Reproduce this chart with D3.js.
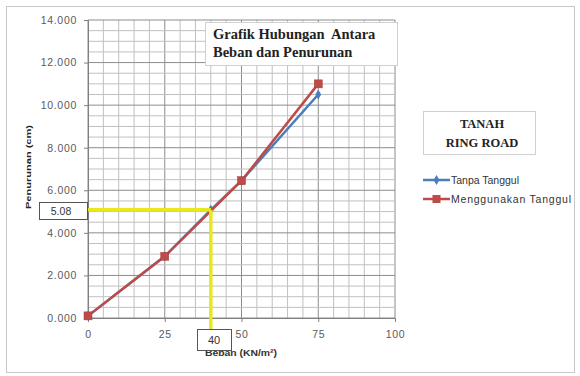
<!DOCTYPE html>
<html>
<head>
<meta charset="utf-8">
<script src="https://cdn.jsdelivr.net/npm/d3@7"></script>
<style>
  html, body { margin: 0; padding: 0; background: #fff; }
  svg { display: block; }
</style>
</head>
<body>
<svg id="chart" width="580" height="376"></svg>
<script>
// Load (KN/m2) and settlement (cm) for the two cases
const beban = [0, 25, 50, 75];
const bebanTanpa = [0, 25, 40, 50, 75];
const tanpaTanggul = [0.1, 2.9, 5.08, 6.45, 10.5];
const menggunakanTanggul = [0.1, 2.9, 6.45, 11.0];
const xTicks = [0, 25, 50, 75, 100];
const yTicks = [0, 2, 4, 6, 8, 10, 12, 14];
const seriesNames = ["Tanpa Tanggul", "Menggunakan Tanggul"];
// Reading marked on the curve
const readX = 40;
const readY = 5.08;

const svg = d3.select("#chart");
const sans = "Liberation Sans, Arial, sans-serif";
const serif = "Liberation Serif, Times New Roman, serif";

// outer frame
svg.append("rect").attr("x", 6.5).attr("y", 6.5).attr("width", 568).attr("height", 366)
  .attr("fill", "#fff").attr("stroke", "#c8c8c8").attr("stroke-width", 1);

const x = d3.scaleLinear().domain([0, 100]).range([88, 395]);
const y = d3.scaleLinear().domain([0, 14]).range([318, 20]);

// gridlines
const g = svg.append("g");
d3.range(0, 100.01, 5).forEach(v => {
  const major = v % 25 === 0;
  g.append("line").attr("x1", x(v)).attr("x2", x(v)).attr("y1", y(14)).attr("y2", y(0))
    .attr("stroke", major ? "#8c8c8c" : "#c0c0c0").attr("stroke-width", 1);
});
d3.range(0, 14.01, 0.5).forEach(v => {
  const major = Math.abs(v % 2) < 1e-9;
  g.append("line").attr("x1", x(0)).attr("x2", x(100)).attr("y1", y(v)).attr("y2", y(v))
    .attr("stroke", major ? "#8c8c8c" : "#c0c0c0").attr("stroke-width", 1);
});

// axes
const yAxis = svg.append("g").attr("transform", `translate(${x(0)},0)`)
  .call(d3.axisLeft(y).tickValues(yTicks).tickFormat(d3.format(".3f")).tickSize(4).tickPadding(7));
const xAxis = svg.append("g").attr("transform", `translate(0,${y(0)})`)
  .call(d3.axisBottom(x).tickValues(xTicks).tickFormat(d3.format("d")).tickSize(4).tickPadding(9));
[yAxis, xAxis].forEach(a => {
  a.selectAll("path,line").attr("stroke", "#808080");
  a.selectAll("text").attr("fill", "#5a5a5a").style("font-family", sans)
    .style("font-size", "10.5px").style("letter-spacing", "0.7px");
});

// axis titles
svg.append("text").attr("transform", "translate(31,167) rotate(-90)")
  .attr("text-anchor", "middle").style("font-family", sans)
  .style("font-size", "8px").style("font-weight", "bold").attr("fill", "#222")
  .attr("textLength", 84).attr("lengthAdjust", "spacingAndGlyphs")
  .text("Penurunan (cm)");
svg.append("text").attr("x", 241).attr("y", 356).attr("text-anchor", "middle")
  .style("font-family", sans).style("font-size", "9px")
  .style("font-weight", "bold").attr("fill", "#333")
  .attr("textLength", 72).attr("lengthAdjust", "spacingAndGlyphs").text("Beban (KN/m²)");

// series
const colors = ["#4a7ebb", "#be4b48"];
const line = d3.line().x(d => x(d[0])).y(d => y(d[1]));
const dataTanpa = bebanTanpa.map((b, i) => [b, tanpaTanggul[i]]);
const dataMenggunakan = beban.map((b, i) => [b, menggunakanTanggul[i]]);

svg.append("path").datum(dataTanpa).attr("d", line).attr("fill", "none")
  .attr("stroke", colors[0]).attr("stroke-width", 2.5);
svg.selectAll(".mk0").data(dataTanpa).join("path").attr("class", "mk0")
  .attr("transform", d => `translate(${x(d[0])},${y(d[1])})`)
  .attr("d", d3.symbol(d3.symbolDiamond, 30)).attr("fill", colors[0]);

svg.append("path").datum(dataMenggunakan).attr("d", line).attr("fill", "none")
  .attr("stroke", colors[1]).attr("stroke-width", 2.5);
svg.selectAll(".mk1").data(dataMenggunakan).join("rect").attr("class", "mk1")
  .attr("x", d => x(d[0]) - 4).attr("y", d => y(d[1]) - 4).attr("width", 8).attr("height", 8)
  .attr("fill", colors[1]).attr("stroke", "#a33d3a").attr("stroke-width", 0.5);

// reading lines at the marked load
const yellow = "#e8e81a";
svg.append("line").attr("x1", 87).attr("x2", x(readX)).attr("y1", y(readY)).attr("y2", y(readY))
  .attr("stroke", yellow).attr("stroke-width", 3.5);
svg.append("line").attr("x1", x(readX)).attr("x2", x(readX)).attr("y1", y(readY)).attr("y2", 330)
  .attr("stroke", yellow).attr("stroke-width", 3.5);

// value boxes (drawn over the axis title)
svg.append("rect").attr("x", 39.5).attr("y", 202.5).attr("width", 48).attr("height", 17)
  .attr("fill", "#fff").attr("stroke", "#555").attr("stroke-width", 1);
svg.append("text").attr("x", 61).attr("y", 215).attr("text-anchor", "middle")
  .style("font-family", sans).style("font-size", "10.5px")
  .attr("fill", "#333").text(d3.format(".2f")(readY));
svg.append("rect").attr("x", 197.5).attr("y", 329.5).attr("width", 34).attr("height", 21)
  .attr("fill", "#fff").attr("stroke", "#555").attr("stroke-width", 1);
svg.append("text").attr("x", 214).attr("y", 344).attr("text-anchor", "middle")
  .style("font-family", sans).style("font-size", "11px")
  .attr("fill", "#333").text(readX);

// chart title box
svg.append("rect").attr("x", 205.5).attr("y", 22.5).attr("width", 192).attr("height", 43)
  .attr("fill", "#fff").attr("stroke", "#d0d0d0").attr("stroke-width", 1);
const title = svg.append("text").style("font-family", serif)
  .style("font-size", "14.5px").style("font-weight", "bold").attr("fill", "#222");
title.append("tspan").attr("x", 213).attr("y", 39).attr("xml:space", "preserve").text("Grafik Hubungan  Antara");
title.append("tspan").attr("x", 213).attr("y", 57).text("Beban dan Penurunan");

// legend title box
svg.append("rect").attr("x", 423.5).attr("y", 111.5).attr("width", 112).attr("height", 43)
  .attr("fill", "#fff").attr("stroke", "#d0d0d0").attr("stroke-width", 1);
const lt = svg.append("text").attr("text-anchor", "middle")
  .style("font-family", serif)
  .style("font-size", "12.5px").style("font-weight", "bold").attr("fill", "#222");
lt.append("tspan").attr("x", 482).attr("y", 128).text("TANAH");
lt.append("tspan").attr("x", 482).attr("y", 147).text("RING ROAD");

// legend
const legendWidths = [68, 120];
seriesNames.forEach((name, i) => {
  const ly = 180 + i * 19;
  svg.append("line").attr("x1", 423).attr("x2", 450).attr("y1", ly).attr("y2", ly)
    .attr("stroke", colors[i]).attr("stroke-width", 2.5);
  if (i === 0) {
    svg.append("path").attr("transform", `translate(436.5,${ly})`)
      .attr("d", d3.symbol(d3.symbolDiamond, 30)).attr("fill", colors[0]);
  } else {
    svg.append("rect").attr("x", 432.5).attr("y", ly - 4).attr("width", 8).attr("height", 8)
      .attr("fill", colors[1]);
  }
  svg.append("text").attr("x", 451).attr("y", ly + 3.5)
    .style("font-family", sans).style("font-size", "10.5px")
    .attr("textLength", legendWidths[i]).attr("lengthAdjust", "spacing")
    .attr("fill", "#333").text(name);
});
</script>
</body>
</html>
